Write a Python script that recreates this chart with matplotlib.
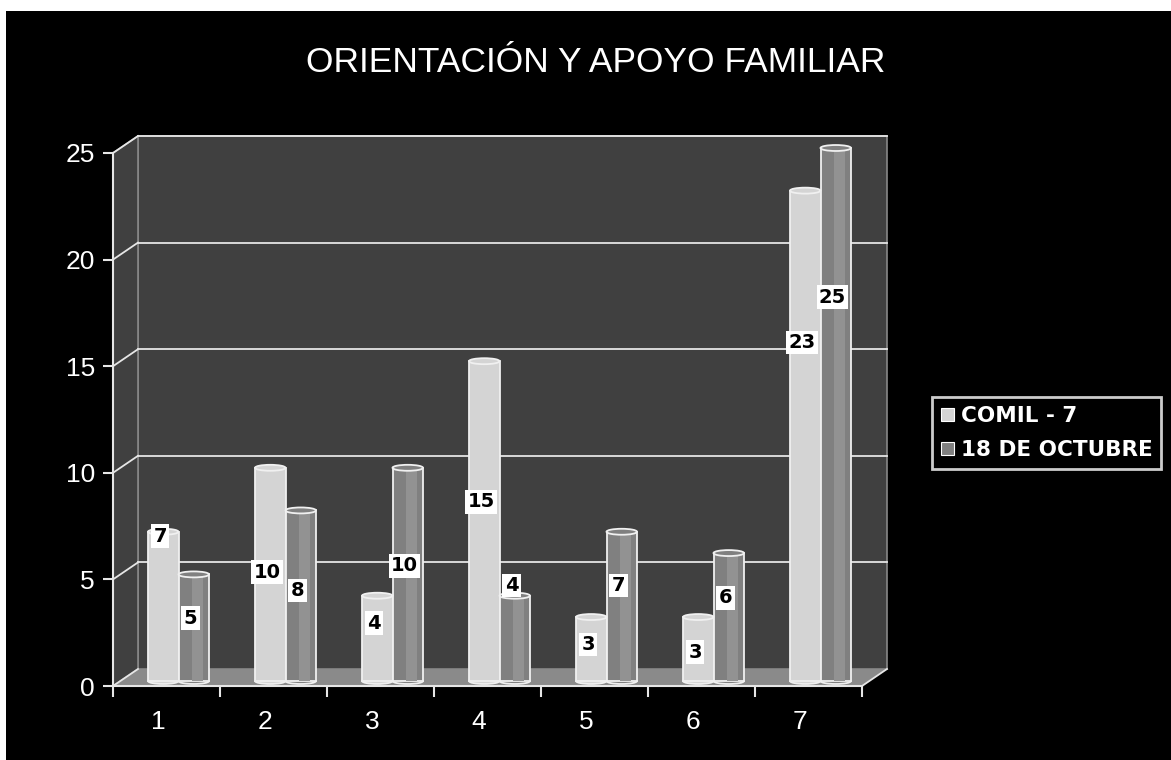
#!/usr/bin/env python3
"""
Grafico de barras pseudo 3D: orientacion y apoyo familiar.
"""

import matplotlib
matplotlib.use("Agg")
import matplotlib.pyplot as plt
from matplotlib.patches import Polygon, Ellipse, Patch
from matplotlib.transforms import offset_copy, IdentityTransform, ScaledTranslation

# datos
categorias = ["1", "2", "3", "4", "5", "6", "7"]
comil_7 = [7, 10, 4, 15, 3, 3, 23]
octubre_18 = [5, 8, 10, 4, 7, 6, 25]
series_nombres = ["COMIL - 7", "18 DE OCTUBRE"]
y_ticks = [0, 5, 10, 15, 20, 25]

# altura relativa de las etiquetas dentro de cada barra (como en el original)
pos_etiq_comil = [0.97, 0.51, 0.68, 0.56, 0.57, 0.45, 0.69]
pos_etiq_oct = [0.59, 0.53, 0.54, 1.12, 0.64, 0.65, 0.72]

W, H, DPI = 1171, 760, 100
BACK = (25, 17)   # profundidad del grafico en pixeles
BAR_OFF = (12, 5)
BG = "black"
WALL = "#404040"
FLOOR = "#8a8a8a"
LIGHT = "#d4d4d4"
DARK = "#808080"
EDGE = "#f0f0f0"


def main():
    plt.rcParams["font.family"] = ["Liberation Sans", "DejaVu Sans"]
    fig = plt.figure(figsize=(W / DPI, H / DPI), dpi=DPI, facecolor=BG)

    # borde blanco arriba / izquierda
    fig.patches.append(plt.Rectangle((0, 1 - 11 / H), 1, 11 / H, transform=fig.transFigure,
                                     facecolor="white", edgecolor="none", zorder=-5))
    fig.patches.append(plt.Rectangle((0, 0), 6 / W, 1, transform=fig.transFigure,
                                     facecolor="white", edgecolor="none", zorder=-5))

    # plano frontal: x 113..862 px, y 686..153 px
    ax = fig.add_axes([113 / W, (H - 686) / H, 749 / W, 533 / H])
    ax.set_facecolor("none")
    ax.set_xlim(0.5, 7.5)
    ax.set_ylim(0, 25)
    for s in ax.spines.values():
        s.set_visible(False)

    back = offset_copy(ax.transData, fig, x=BACK[0], y=BACK[1], units="dots")
    bar_tr = offset_copy(ax.transData, fig, x=BAR_OFF[0], y=BAR_OFF[1], units="dots")

    def px(x, y, off=(0, 0)):
        p = ax.transData.transform((x, y))
        return (p[0] + off[0], p[1] + off[1])

    # pared del fondo
    ax.add_patch(plt.Rectangle((0.5, 0), 7, 25, transform=back, facecolor=WALL,
                               edgecolor="#888888", lw=1.2, clip_on=False, zorder=0))
    # pared izquierda
    left = [px(0.5, 0), px(0.5, 25), px(0.5, 25, BACK), px(0.5, 0, BACK)]
    ax.add_patch(Polygon(left, closed=True, transform=IdentityTransform(), facecolor=WALL,
                         edgecolor="#888888", lw=1.2, clip_on=False, zorder=0))
    # piso
    floor = [px(0.5, 0), px(7.5, 0), px(7.5, 0, BACK), px(0.5, 0, BACK)]
    ax.add_patch(Polygon(floor, closed=True, transform=IdentityTransform(), facecolor=FLOOR,
                         edgecolor="none", clip_on=False, zorder=1))

    # lineas de grilla
    for v in y_ticks[1:]:
        ax.plot([0.5, 7.5], [v, v], transform=back, color="#e6e6e6", lw=1.3,
                clip_on=False, zorder=1)
    for v in y_ticks:
        a, b = px(0.5, v), px(0.5, v, BACK)
        ax.plot([a[0], b[0]], [a[1], b[1]], transform=IdentityTransform(),
                color="#e6e6e6", lw=1.3, clip_on=False, zorder=1)

    # ejes frontales
    ax.plot([0.5, 0.5], [0, 25], color="#e6e6e6", lw=1.5, clip_on=False, zorder=2)
    ax.plot([0.5, 7.5], [0, 0], color="#e6e6e6", lw=1.5, clip_on=False, zorder=2)
    a, b = px(7.5, 0), px(7.5, 0, BACK)
    ax.plot([a[0], b[0]], [a[1], b[1]], transform=IdentityTransform(),
            color="#e6e6e6", lw=1.3, clip_on=False, zorder=2)

    # barras cilindricas
    x = list(range(1, len(categorias) + 1))
    w = 0.285
    cap_h = 0.28
    for vals, color, shift, fracs in [(comil_7, LIGHT, -w / 2, pos_etiq_comil),
                                      (octubre_18, DARK, w / 2, pos_etiq_oct)]:
        xs = [xi + shift for xi in x]
        ax.bar(xs, vals, width=w, color=color, edgecolor=EDGE, lw=1.3,
               transform=bar_tr, clip_on=False, zorder=4)
        if color == DARK:
            ax.bar([xi + w * 0.12 for xi in xs], vals, width=w * 0.35, color="#929292",
                   edgecolor="none", transform=bar_tr, clip_on=False, zorder=4.1)
        for xi, v, f in zip(xs, vals, fracs):
            ax.add_patch(Ellipse((xi, v), w, cap_h, transform=bar_tr, facecolor=color,
                                 edgecolor=EDGE, lw=1.3, clip_on=False, zorder=4.2))
            ax.add_patch(Ellipse((xi, 0), w, cap_h, transform=bar_tr, facecolor=color,
                                 edgecolor=EDGE, lw=1.3, clip_on=False, zorder=3.9))
            ax.text(xi - 0.03, v * f, str(v), transform=bar_tr, ha="center", va="center",
                    fontsize=14, fontweight="bold", color="black", zorder=6,
                    family=["DejaVu Sans"],
                    bbox=dict(boxstyle="square,pad=0.12", facecolor="white",
                              edgecolor="none"))

    # ticks
    ax.set_yticks(y_ticks)
    ax.set_yticklabels([str(v) for v in y_ticks])
    ax.tick_params(axis="y", colors="#e6e6e6", labelcolor="white", length=7,
                   width=1.5, pad=6, labelsize=19)
    ax.set_xticks(x)
    ax.set_xticklabels(categorias)
    ax.set_xticks([i + 0.5 for i in range(0, 8)], minor=True)
    ax.tick_params(axis="x", which="major", length=0, pad=17, labelsize=19,
                   labelcolor="white")
    ax.tick_params(axis="x", which="minor", length=8, width=1.5, colors="#e6e6e6")
    shift_lbl = ScaledTranslation(-6 / 72, 0, fig.dpi_scale_trans)
    for lbl in ax.get_xticklabels():
        lbl.set_transform(lbl.get_transform() + shift_lbl)

    # titulo
    fig.text(596 / W, 1 - 63 / H, "ORIENTACIÓN Y APOYO FAMILIAR", ha="center",
             va="center", color="white", fontsize=25.5)

    # leyenda
    handles = [Patch(facecolor=LIGHT, edgecolor="white", lw=0.8),
               Patch(facecolor=DARK, edgecolor="white", lw=0.8)]
    leg = fig.legend(handles, series_nombres, loc="center left",
                     bbox_to_anchor=(932 / W, 1 - 433 / H), frameon=True,
                     fancybox=False, facecolor="black", edgecolor="white",
                     handlelength=0.6, handleheight=0.6, handletextpad=0.35,
                     borderpad=0.4, labelspacing=0.65, borderaxespad=0,
                     prop={"weight": "bold", "size": 15.5, "family": "DejaVu Sans"})
    leg.get_frame().set_linewidth(2)
    for t in leg.get_texts():
        t.set_color("white")

    fig.savefig("out.png", dpi=DPI, facecolor=BG)


if __name__ == "__main__":
    main()
